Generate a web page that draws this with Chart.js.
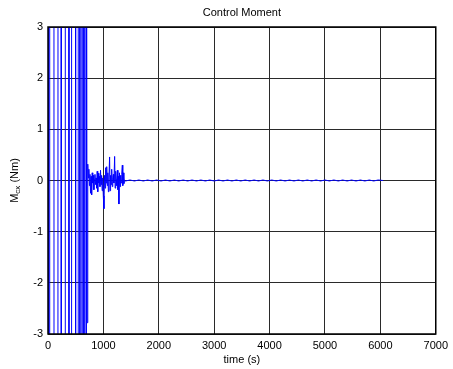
<!DOCTYPE html>
<html>
<head>
<meta charset="utf-8">
<script src="https://cdn.jsdelivr.net/npm/chart.js@4/dist/chart.umd.min.js"></script>
<style>
  html, body { margin: 0; padding: 0; background: #fff; }
  #wrap { width: 453px; height: 369px; position: relative; }
</style>
</head>
<body>
<div id="wrap"><canvas id="c" width="453" height="369"></canvas></div>
<script>
// Axis ticks
const xTicks = [0, 1000, 2000, 3000, 4000, 5000, 6000, 7000];
const yTicks = [-3, -2, -1, 0, 1, 2, 3];

// Initial swing-out: controller saturating far beyond the plotted range
const swingTime  = [0, 17, 19, 30, 32, 107, 109, 179, 181, 238, 240, 310, 312, 377, 379, 424, 426,
                    497, 499, 544, 546, 574, 576, 609, 611, 634, 636, 659, 661, 684, 686];
const swingValue = [8, 8, -8, -8, 8, 8, -8, -8, 8, 8, -8, -8, 8, 8, -8, -8, 8,
                    8, -8, -8, 8, 8, -8, -8, 8, 8, -8, -8, 8, 8, -8];

// Settling phase
const settleTime  = [695, 705, 718, 728, 738, 748, 758, 768, 778, 788, 798, 808, 818, 828, 838, 848, 858, 868,
                     878, 888, 898, 908, 918, 928, 938, 948, 958, 968, 978, 988, 998, 1010, 1020, 1030, 1040,
                     1050, 1060, 1070, 1080, 1090, 1100, 1112, 1120, 1130, 1140, 1150, 1160, 1170, 1180, 1190,
                     1203, 1212, 1222, 1232, 1242, 1252, 1262, 1272, 1280, 1290, 1300, 1310, 1320, 1330, 1342,
                     1350, 1360, 1370, 1380];
const settleValue = [8, -2.78, 0.32, 0.05, 0.22, -0.10, 0.12, -0.25, 0.08, -0.28, 0.15, -0.05, 0.10, -0.18, 0.02, 0.12, -0.08, 0.05,
                     -0.15, 0.18, -0.22, 0.14, -0.05, 0.08, -0.12, 0.20, -0.08, 0.10, -0.20, 0.05, -0.30, -0.55, 0.10, -0.15, 0.25,
                     -0.05, 0.27, -0.10, 0.15, -0.22, 0.05, 0.46, -0.20, 0.10, -0.08, 0.22, -0.12, 0.06, 0.12, -0.05,
                     0.47, -0.15, 0.18, 0.02, -0.10, 0.20, -0.18, 0.08, -0.46, 0.15, -0.12, 0.10, -0.05, 0.12, 0.30,
                     -0.10, 0.15, -0.06, 0.01];

// Steady hold near zero
const holdTime  = [1400, 1480, 1560, 1640, 1720, 1800, 1880, 1960, 2040, 2120, 2200, 2280, 2360, 2440, 2520, 2600,
                   2680, 2760, 2840, 2920, 3000, 3080, 3160, 3240, 3320, 3400, 3480, 3560, 3640, 3720, 3800, 3880,
                   3960, 4040, 4120, 4200, 4280, 4360, 4440, 4520, 4600, 4680, 4760, 4840, 4920, 5000, 5080, 5160,
                   5240, 5320, 5400, 5480, 5560, 5640, 5720, 5800, 5880, 5960, 6050];
const holdValue = [-0.01, 0.01, -0.01, 0.01, -0.01, 0.01, -0.01, 0.01, -0.01, 0.01, -0.01, 0.01, -0.01, 0.01, -0.01, 0.01,
                   -0.01, 0.01, -0.01, 0.01, -0.01, 0.01, -0.01, 0.01, -0.01, 0.01, -0.01, 0.01, -0.01, 0.01, -0.01, 0.01,
                   -0.01, 0.01, -0.01, 0.01, -0.01, 0.01, -0.01, 0.01, -0.01, 0.01, -0.01, 0.01, -0.01, 0.01, -0.01, 0.01,
                   -0.01, 0.01, -0.01, 0.01, -0.01, 0.01, -0.01, 0.01, -0.01, 0.01, 0.0];

const timeSec  = swingTime.concat(settleTime, holdTime);
const momentNm = swingValue.concat(settleValue, holdValue);
const points = timeSec.map((t, i) => ({ x: t, y: momentNm[i] }));

const FONT = '"Liberation Sans", Arial, sans-serif';

// Title, axis titles and frame
const decorations = {
  id: 'decorations',
  afterDraw(chart) {
    const { ctx, chartArea: a } = chart;
    ctx.save();
    ctx.fillStyle = '#000';
    ctx.font = '11px ' + FONT;
    ctx.textAlign = 'center';
    ctx.textBaseline = 'middle';
    ctx.fillText('Control Moment', (a.left + a.right) / 2, 13);
    ctx.fillText('time (s)', (a.left + a.right) / 2, 360);

    // y-axis title with subscript
    ctx.translate(15, (a.top + a.bottom) / 2);
    ctx.rotate(-Math.PI / 2);
    ctx.textAlign = 'left';
    const m = 'M', sub = 'cx', rest = ' (Nm)';
    ctx.font = '11px ' + FONT;
    const wM = ctx.measureText(m).width;
    const wR = ctx.measureText(rest).width;
    ctx.font = '8px ' + FONT;
    const wS = ctx.measureText(sub).width;
    let x0 = -(wM + wS + wR) / 2;
    ctx.font = '11px ' + FONT;
    ctx.fillText(m, x0, 0);
    ctx.font = '8px ' + FONT;
    ctx.fillText(sub, x0 + wM, 3);
    ctx.font = '11px ' + FONT;
    ctx.fillText(rest, x0 + wM + wS, 0);
    ctx.restore();

    ctx.save();
    ctx.strokeStyle = '#000';
    ctx.lineWidth = 1.5;
    ctx.strokeRect(a.left, a.top, a.right - a.left, a.bottom - a.top);
    ctx.restore();
  }
};

new Chart(document.getElementById('c'), {
  type: 'line',
  data: {
    datasets: [{
      data: points,
      borderColor: '#0000ff',
      borderWidth: 1,
      pointRadius: 0,
      fill: false,
      tension: 0
    }]
  },
  options: {
    responsive: false,
    animation: false,
    layout: { padding: { top: 27, right: 16, left: 0, bottom: 0 } },
    plugins: { legend: { display: false }, tooltip: { enabled: false } },
    scales: {
      x: {
        type: 'linear',
        min: 0, max: 7000,
        afterBuildTicks(s) { s.ticks = xTicks.map(v => ({ value: v })); },
        afterFit(s) { s.height = 35; },
        grid: { color: '#2a2a2a', lineWidth: 1, drawTicks: false },
        border: { display: false },
        ticks: { color: '#000', font: { family: FONT, size: 11 }, padding: 5, maxRotation: 0,
                 callback: v => String(v) }
      },
      y: {
        type: 'linear',
        min: -3, max: 3,
        afterBuildTicks(s) { s.ticks = yTicks.map(v => ({ value: v })); },
        afterFit(s) { s.width = 48; },
        grid: { color: '#2a2a2a', lineWidth: 1, drawTicks: false },
        border: { display: false },
        ticks: { color: '#000', font: { family: FONT, size: 11 }, padding: 5,
                 callback: v => String(v) }
      }
    }
  },
  plugins: [decorations]
});
</script>
</body>
</html>
